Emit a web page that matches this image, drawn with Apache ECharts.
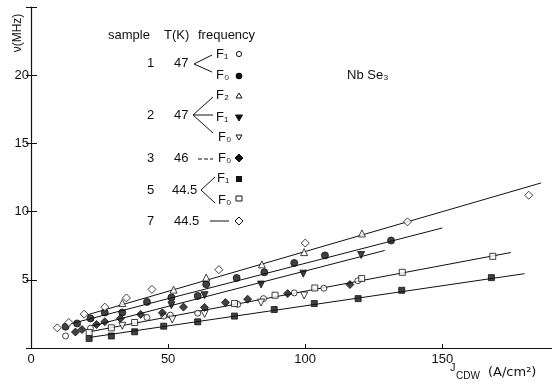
<!DOCTYPE html>
<html>
<head>
<meta charset="utf-8">
<script src="https://cdn.jsdelivr.net/npm/echarts@6/dist/echarts.min.js"></script>
<style>
  html, body { margin: 0; padding: 0; background: #fff; }
  #chart { width: 552px; height: 388px; }
</style>
</head>
<body>
<div id="chart"></div>
<script>
// NbSe3: narrow band noise frequency vs CDW current density
const chart = echarts.init(document.getElementById('chart'));

// J_CDW (A/cm2), frequency (MHz)
const s1F1 = [[12.6, 0.88], [21.7, 1.45], [42.3, 2.24], [48.4, 2.34], [50.8, 2.41], [60.8, 2.55],
  [75.4, 3.2], [84.8, 3.62], [96, 4.04], [106.8, 4.38], [119.2, 4.93]];
const s1F0 = [[12.6, 1.56], [16.8, 1.8], [21.7, 2.17], [26.9, 2.6], [33.3, 2.6], [42.3, 3.38],
  [51.2, 3.7], [60.8, 3.82], [63.9, 4.67], [75, 5.13], [85.1, 5.55], [96, 6.23], [107.2, 6.79], [131.3, 7.88]];
const s2F2 = [[33.3, 3.3], [52, 4.28], [63.9, 5.16], [84.2, 6.13], [99.6, 7.03], [120.7, 8.4]];
const s2F1 = [[51.2, 3.14], [63.3, 3.87], [83.9, 4.65], [99.3, 5.45], [120.4, 6.82]];
const s2F0 = [[33.3, 1.63], [51.5, 2.09], [63.3, 2.5], [83.9, 3.33], [99.6, 3.85]];
const s3F0 = [[16.2, 1.17], [18.6, 1.35], [23.9, 1.72], [26.9, 1.92], [32.6, 2.17], [40, 2.46], [47.9, 2.58],
  [55.6, 3.0], [63.3, 2.97], [70.9, 3.33], [79, 3.58], [93.6, 3.99], [116.3, 4.65]];
const s5F1 = [[21.2, 0.7], [29.3, 0.88], [37.8, 1.19], [48.4, 1.6], [60.8, 1.92], [74.2, 2.34], [88.7, 2.82],
  [103.3, 3.26], [119.3, 3.62], [135.2, 4.23], [167.9, 5.16]];
const s5F0 = [[21.2, 1.14], [29.3, 1.48], [37.8, 1.87], [74.2, 3.26], [89, 3.87], [103.5, 4.4], [120.6, 5.09],
  [135.4, 5.55], [168.4, 6.72]];
const s7 = [[9.6, 1.48], [13.8, 1.87], [19.4, 2.48], [26.9, 3.0], [34.8, 3.67], [44.1, 4.3], [68.5, 5.74],
  [100, 7.69], [137.3, 9.25], [181.5, 11.2]];

// fitted lines (start, end)
const fitLines = [
  [[20, 2.4], [186, 12.1]],
  [[14, 1.75], [150, 8.8]],
  [[22, 1.6], [129, 7.15]],
  [[21.5, 1.2], [175, 7.0]],
  [[21.5, 0.78], [180, 5.45]]
];

const xTicks = [0, 50, 100, 150];
const yTicks = [5, 10, 15, 20];

const FONT = 'Liberation Sans';
const INK = '#111';

function pts(type, data, filled, size, rotate) {
  return {
    type: 'scatter',
    data: data,
    symbol: type,
    symbolSize: size,
    symbolRotate: rotate || 0,
    itemStyle: {
      color: filled ? INK : '#fff',
      borderColor: INK,
      borderWidth: 1
    },
    z: 5
  };
}

const series = fitLines.map(l => ({
  type: 'line',
  data: l,
  showSymbol: false,
  lineStyle: { color: INK, width: 1 },
  z: 2
}));
series.push(
  pts('circle', s1F1, false, 6),
  pts('circle', s1F0, true, 7),
  pts('triangle', s2F2, false, 7),
  pts('triangle', s2F1, true, 7, 180),
  pts('triangle', s2F0, false, 7, 180),
  pts('diamond', s3F0, true, 8),
  pts('rect', s5F1, true, 6),
  pts('rect', s5F0, false, 6),
  pts('diamond', s7, false, 8)
);

// table-style key in the upper left
function txt(x, y, s, size, family) {
  return {
    type: 'text', x: x, y: y,
    style: { text: s, font: (size || 13) + 'px "' + (family || FONT) + '"', fill: INK, textVerticalAlign: 'middle' }
  };
}
function pl(points, dash) {
  return {
    type: 'polyline',
    shape: { points: points },
    style: { stroke: INK, lineWidth: 1, fill: null, lineDash: dash || null }
  };
}
function poly(points, filled) {
  return {
    type: 'polygon',
    shape: { points: points },
    style: { stroke: INK, lineWidth: 1, fill: filled ? INK : '#fff' }
  };
}
const keyX = 239;
const graphics = [
  txt(108, 35, 'sample'), txt(164, 35, 'T(K)'), txt(198, 35, 'frequency'),
  txt(147, 63, '1'), txt(174, 63, '47'),
  pl([[212, 55], [194, 64], [212, 72]]),
  txt(216, 54, 'F₁'), txt(216, 75, 'F₀'),
  { type: 'circle', shape: { cx: keyX, cy: 54, r: 2.6 }, style: { stroke: INK, fill: '#fff', lineWidth: 1 } },
  { type: 'circle', shape: { cx: keyX, cy: 76, r: 3.3 }, style: { fill: INK } },
  txt(147, 115, '2'), txt(174, 115, '47'),
  pl([[213, 97], [193, 115], [213, 133]]), pl([[193, 115], [213, 115]]),
  txt(216, 95, 'F₂'), txt(216, 117, 'F₁'), txt(218, 137, 'F₀'),
  poly([[keyX, 93], [keyX - 3, 98], [keyX + 3, 98]], false),
  poly([[keyX - 3.5, 115], [keyX + 3.5, 115], [keyX, 121]], true),
  poly([[keyX - 3, 135], [keyX + 3, 135], [keyX, 140]], false),
  txt(147, 158, '3'), txt(174, 158, '46'),
  pl([[198, 159], [213, 159]], [4, 2]),
  txt(218, 158, 'F₀'),
  poly([[keyX, 154], [keyX + 4, 158], [keyX, 162], [keyX - 4, 158]], true),
  txt(217, 178, 'F₁'), txt(147, 190, '5'), txt(172, 190, '44.5'),
  pl([[215, 177], [201, 190], [215, 203]]),
  txt(218, 200, 'F₀'),
  { type: 'rect', shape: { x: keyX - 3, y: 176, width: 6, height: 6 }, style: { fill: INK } },
  { type: 'rect', shape: { x: keyX - 3, y: 196, width: 6, height: 5 }, style: { stroke: INK, fill: '#fff', lineWidth: 1 } },
  txt(147, 221, '7'), txt(174, 221, '44.5'),
  pl([[210, 221], [229, 221]]),
  poly([[keyX, 217], [keyX + 4, 221], [keyX, 225], [keyX - 4, 221]], false),
  txt(347, 75, 'Nb Se₃'),
  // y title, reads bottom-to-top
  {
    type: 'text', x: 18, y: 33, rotation: Math.PI / 2,
    style: { text: 'ν(MHz)', font: '12px "' + FONT + '"', fill: INK, textAlign: 'center', textVerticalAlign: 'middle' }
  },
  txt(450, 368, 'J', 11),
  txt(456, 376, 'CDW', 10),
  txt(488, 373, '(A/cm²)', 13, 'DejaVu Sans')
];

const option = {
  backgroundColor: '#fff',
  animation: false,
  grid: { left: 31, right: 0, top: 7, bottom: 40 },
  xAxis: [
    {
      type: 'value', min: 0, max: 190, interval: 50,
      splitLine: { show: false },
      axisLine: { lineStyle: { color: INK, width: 1 } },
      axisTick: { inside: true, length: 4, lineStyle: { color: INK } },
      axisLabel: {
        color: INK, fontFamily: FONT, fontSize: 13, margin: 5,
        showMaxLabel: false,
        formatter: v => (xTicks.includes(v) ? String(v) : '')
      }
    },
    {
      type: 'value', position: 'top', min: 0, max: 190,
      splitLine: { show: false },
      axisLine: { lineStyle: { color: INK, width: 1.2 } },
      axisTick: { show: false },
      axisLabel: { show: false }
    }
  ],
  yAxis: [
    {
      type: 'value', min: 0, max: 25, interval: 5,
      splitLine: { show: false },
      axisLine: { lineStyle: { color: INK, width: 1.2 } },
      axisTick: { inside: true, length: 6, lineStyle: { color: INK } },
      axisLabel: {
        color: INK, fontFamily: FONT, fontSize: 13, margin: 2,
        formatter: v => (yTicks.includes(v) ? String(v) : '')
      }
    },
    {
      type: 'value', position: 'right', min: 0, max: 25, interval: 5,
      splitLine: { show: false },
      axisLine: { show: false },
      axisTick: { inside: true, length: 5, lineStyle: { color: INK } },
      axisLabel: { show: false }
    }
  ],
  series: series,
  graphic: graphics
};
chart.setOption(option);
</script>
</body>
</html>
